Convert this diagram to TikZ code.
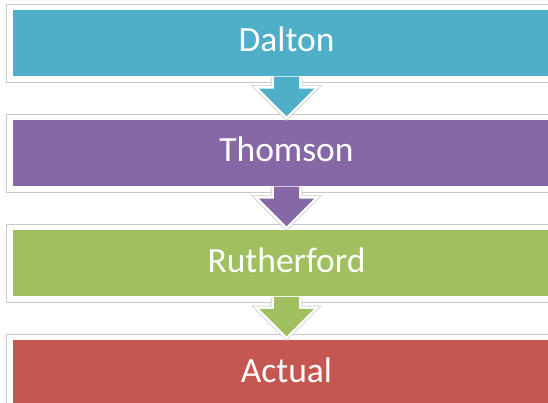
\documentclass[tikz,border=0pt]{standalone}
\usepackage{fontspec}
\setmainfont{Carlito}
\usetikzlibrary{calc}
\definecolor{cDalton}{HTML}{4FAFC9}
\definecolor{cThomson}{HTML}{8668A6}
\definecolor{cRuth}{HTML}{A0BF5F}
\definecolor{cActual}{HTML}{C45752}
\definecolor{frameGray}{HTML}{C8C8C8}
\tikzset{
  stagebox/.style={rectangle, minimum width=549pt, minimum height=68pt,
    draw=white, line width=1.5pt, text=white, inner sep=0pt,
    font=\fontsize{35.5}{40}\selectfont, text height=18pt, text depth=0pt},
  framed/.style={draw=frameGray, line width=1pt},
  arrowfill/.style={fill=#1},
  arrowrim/.style={draw=frameGray, line width=6.5pt, line join=miter},
  arrowedge/.style={draw=white, line width=5pt, line join=miter}
}
\newcommand{\downarrowfrom}[2]{%
  \draw[arrowrim] ($(#1.south)+(-12.5,0)$) -- ++(0,11) -- ++(-15,0)
     -- ++(27.5,27.5) -- ++(27.5,-27.5) -- ++(-15,0) -- ++(0,-11);
  \draw[arrowedge] ($(#1.south)+(-12.5,0)$) -- ++(0,11) -- ++(-15,0)
     -- ++(27.5,27.5) -- ++(27.5,-27.5) -- ++(-15,0) -- ++(0,-11);
  \fill[arrowfill=#2] ($(#1.south)+(-12.5,-1)$) -- ++(0,12) -- ++(-15,0)
     -- ++(27.5,27.5) -- ++(27.5,-27.5) -- ++(-15,0) -- ++(0,-12) -- cycle;
}
\begin{document}
\begin{tikzpicture}[x=1pt,y=-1pt]
\useasboundingbox (0,0) rectangle (548,403);
\clip (0,0) rectangle (548,403);
\fill[white] (0,0) rectangle (548,403);
% boxes
\node[stagebox, fill=cDalton]  (dalton)  at (286.5,43)  {Dalton};
\node[stagebox, fill=cThomson] (thomson) at (286.5,153) {Thomson};
\node[stagebox, fill=cRuth]    (ruth)    at (286.5,263) {Rutherford};
\node[stagebox, fill=cActual]  (actual)  at (286.5,373) {Actual};
% outer light frames
\foreach \n in {dalton,thomson,ruth,actual}{
  \draw[framed] ($(\n.south west)+(-5,5)$) rectangle ($(\n.north east)+(5,-4)$);
}
% arrows
\downarrowfrom{dalton}{cDalton}
\downarrowfrom{thomson}{cThomson}
\downarrowfrom{ruth}{cRuth}
\end{tikzpicture}
\end{document}
